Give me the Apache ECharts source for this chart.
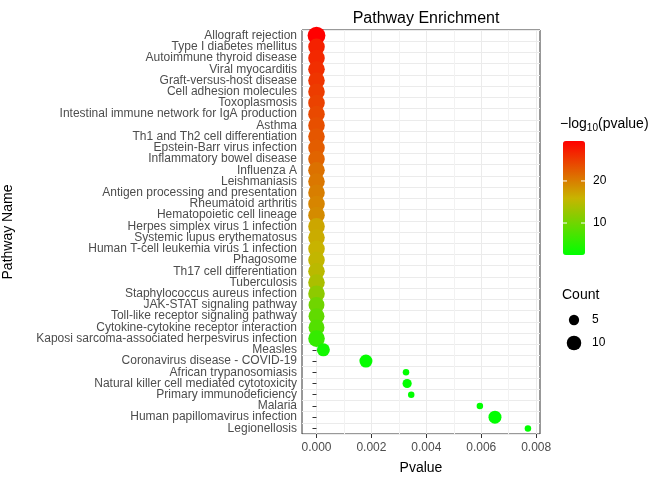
<!DOCTYPE html>
<html><head><meta charset="utf-8">
<script src="https://cdn.jsdelivr.net/npm/echarts@6/dist/echarts.min.js"></script>
<style>html,body{margin:0;background:#fff}#c{width:672px;height:480px}</style>
</head><body><div id="c"></div>
<script>
const pathways = ["Allograft rejection","Type I diabetes mellitus","Autoimmune thyroid disease","Viral myocarditis","Graft-versus-host disease","Cell adhesion molecules","Toxoplasmosis","Intestinal immune network for IgA production","Asthma","Th1 and Th2 cell differentiation","Epstein-Barr virus infection","Inflammatory bowel disease","Influenza A","Leishmaniasis","Antigen processing and presentation","Rheumatoid arthritis","Hematopoietic cell lineage","Herpes simplex virus 1 infection","Systemic lupus erythematosus","Human T-cell leukemia virus 1 infection","Phagosome","Th17 cell differentiation","Tuberculosis","Staphylococcus aureus infection","JAK-STAT signaling pathway","Toll-like receptor signaling pathway","Cytokine-cytokine receptor interaction","Kaposi sarcoma-associated herpesvirus infection","Measles","Coronavirus disease - COVID-19","African trypanosomiasis","Natural killer cell mediated cytotoxicity","Primary immunodeficiency","Malaria","Human papillomavirus infection","Legionellosis"];
const pvalues = [3e-30,1e-27,3e-27,1e-26,3e-26,1e-25,3e-25,1e-24,3e-24,1e-23,3e-23,1e-22,1e-21,3e-21,1e-20,3e-20,1e-19,1e-17,3e-17,1e-16,3e-16,1e-15,1e-14,1e-12,1e-10,1e-9,1e-8,1e-6,0.00025,0.0018,0.00326,0.0033,0.00345,0.00595,0.0065,0.0077];
const counts = [15,13,13,13,13,13,13,13,13,13,13,13,13,13,13,13,13,13,13,13,13,13,13,13,12,12,12,13,8,8,2,4,2,2,8,2];
const colorMin = 2.4, colorMax = 29.5;
const colorTicks = [10, 20];
const sizeLegend = [5, 10];

const sz = c => 4.6 * Math.sqrt(c);
const data = pathways.map((p, i) => [pvalues[i], p, -Math.log10(pvalues[i]), counts[i]]);

const font = 'Liberation Sans, Arial, sans-serif';
const barTop = 141, barH = 114, barLeft = 563;
const graphics = [];
colorTicks.forEach(t => {
  const y = barTop + barH * (colorMax - t) / (colorMax - colorMin);
  graphics.push({type:'line', shape:{x1:barLeft, y1:y, x2:barLeft+4, y2:y}, style:{stroke:'#fff', lineWidth:1}, z:100});
  graphics.push({type:'line', shape:{x1:barLeft+18, y1:y, x2:barLeft+22, y2:y}, style:{stroke:'#fff', lineWidth:1}, z:100});
  graphics.push({type:'text', x:barLeft+30, y:y, style:{text:String(t), fill:'#000', font:'12px '+font, verticalAlign:'middle'}});
});
graphics.push({type:'text', x:560, y:124, style:{text:'{a|−log}{s|10}{a|(pvalue)}', rich:{a:{fontSize:14, fontFamily:font, fill:'#000'}, s:{fontSize:10, fontFamily:font, fill:'#000', padding:[8,0,0,0]}}, verticalAlign:'middle'}});
graphics.push({type:'text', x:562, y:295, style:{text:'Count', fill:'#000', font:'14px '+font, verticalAlign:'middle'}});
sizeLegend.forEach((c, i) => {
  const y = 320 + i * 23;
  graphics.push({type:'circle', shape:{cx:574, cy:y, r:sz(c)/2}, style:{fill:'#000'}});
  graphics.push({type:'text', x:592, y:y, style:{text:String(c), fill:'#000', font:'12px '+font, verticalAlign:'middle'}});
});

const chart = echarts.init(document.getElementById('c'));
chart.setOption({
  animation: false,
  title: {text:'Pathway Enrichment', left:421, top:6, textAlign:'center', textStyle:{fontSize:16, fontWeight:'normal', fontFamily:font, color:'#000'}},
  grid: {left:302, right:132, top:30, bottom:42, show:true, borderColor:'#333', borderWidth:1, backgroundColor:'#fff'},
  xAxis: [{
    type:'value', min:-0.000528, max:0.00814,
    name:'Pvalue', nameLocation:'middle', nameGap:27, nameTextStyle:{fontSize:14, fontFamily:font, color:'#000'},
    axisLine:{show:false},
    axisTick:{show:true, customValues:[0,0.002,0.004,0.006,0.008], length:4, lineStyle:{color:'#333'}},
    axisLabel:{customValues:[0,0.002,0.004,0.006,0.008], formatter:v => v.toFixed(3), fontSize:12, fontFamily:font, color:'#4d4d4d'},
    splitLine:{show:true, lineStyle:{color:'#ebebeb', width:1}}
  },{
    type:'value', min:-0.000528, max:0.00814, position:'bottom',
    axisLine:{show:false}, axisLabel:{show:false},
    axisTick:{show:false, customValues:[0.001,0.003,0.005,0.007]},
    splitLine:{show:true, lineStyle:{color:'#f2f2f2', width:1}}
  }],
  yAxis: {
    type:'category', data:pathways, inverse:true,
    name:'Pathway Name', nameLocation:'middle', nameGap:287, nameRotate:90, nameTextStyle:{fontSize:14, fontFamily:font, color:'#000'},
    axisLine:{show:false},
    axisTick:{show:true, alignWithLabel:true, interval:0, length:4, lineStyle:{color:'#333'}},
    axisLabel:{interval:0, fontSize:12, fontFamily:font, color:'#4d4d4d', margin:5},
    splitLine:{show:true, interval:0, lineStyle:{color:'#ebebeb'}}
  },
  visualMap: {
    type:'continuous', min:colorMin, max:colorMax, dimension:2, seriesIndex:0,
    left:barLeft, top:barTop, padding:0, itemWidth:22, itemHeight:barH, text:['',''], textGap:0, showLabel:false,
    calculable:false, inRange:{color:['#00ff00','#c8b400','#ff0000']}, hoverLink:false
  },
  series: [{
    type:'scatter', data:data, encode:{x:0, y:1},
    symbolSize: v => sz(v[3]), itemStyle:{opacity:1}
  }],
  graphic: graphics
});
</script></body></html>
